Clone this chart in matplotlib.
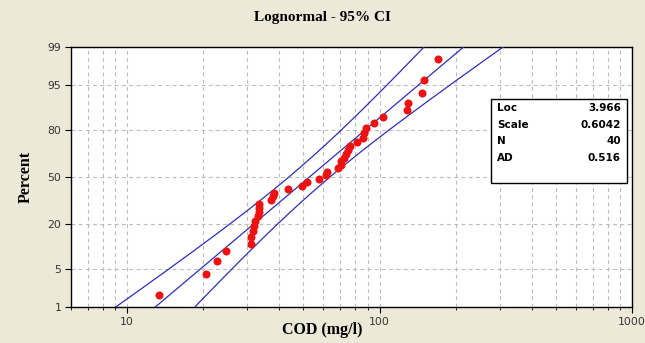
import numpy as np
import matplotlib
matplotlib.use("Agg")
import matplotlib.pyplot as plt
from matplotlib.patches import Rectangle
from matplotlib.ticker import FixedLocator, LogLocator, NullFormatter
from statistics import NormalDist

# COD samples (mg/l), sorted
cod = [13.4, 20.5, 22.7, 24.6, 30.9, 30.9, 31.5, 31.8, 32.1, 32.9,
       33.2, 33.2, 33.2, 37.1, 37.8, 38.1, 43.3, 49.2, 51.5, 57.4,
       61.2, 61.7, 68.8, 70.1, 70.7, 72.1, 73.4, 74.7, 76.1, 81.8,
       85.7, 87.2, 88.8, 95.5, 102.8, 129.0, 130.0, 148.0, 150.6, 171.0]

# lognormal fit summary
LOC = 3.966
SCALE = 0.6042
N = 40
AD = 0.516

pct_ticks = [1, 5, 20, 50, 80, 95, 99]
x_ticks = [10, 100, 1000]

ND = NormalDist()
BG = "#ECE9D8"
LINE = "#2f2fb4"
SERIF = "Liberation Serif"


def prob_fwd(p):
    p = np.clip(np.asarray(p, dtype=float), 1e-6, 100 - 1e-6) / 100.0
    return np.vectorize(ND.inv_cdf, otypes=[float])(p) if p.ndim else ND.inv_cdf(float(p))


def prob_inv(z):
    z = np.asarray(z, dtype=float)
    return np.vectorize(ND.cdf, otypes=[float])(z) * 100.0 if z.ndim else ND.cdf(float(z)) * 100.0


fig = plt.figure(figsize=(6.45, 3.43), dpi=100, facecolor=BG)
ax = fig.add_axes([71 / 645, 1 - 307 / 343, 561 / 645, 260 / 343])
ax.set_facecolor("white")

ax.set_xscale("log")
ax.set_yscale("function", functions=(prob_fwd, prob_inv))
ax.set_xlim(6, 1000)
ax.set_ylim(1, 99)

# median-rank plotting positions
n = len(cod)
ranks = np.arange(1, n + 1)
pos = (ranks - 0.3) / (n + 0.4) * 100

# fitted percentile line with 95% bands
z = np.linspace(-2.7, 2.7, 300)
pz = np.array([ND.cdf(v) for v in z]) * 100
se = SCALE * np.sqrt(1.0 / N + z ** 2 / (2.0 * N))
mid = LOC + z * SCALE
ax.plot(np.exp(mid), pz, color=LINE, lw=0.9, zorder=3)
ax.plot(np.exp(mid - 1.96 * se), pz, color=LINE, lw=0.9, zorder=3)
ax.plot(np.exp(mid + 1.96 * se), pz, color=LINE, lw=0.9, zorder=3)

ax.plot(cod, pos, "o", color="#ee1111", ms=5.8, mec="none", zorder=4)

# grid
ax.xaxis.set_major_locator(FixedLocator(x_ticks))
ax.xaxis.set_minor_locator(LogLocator(base=10, subs=np.arange(2, 10)))
ax.xaxis.set_minor_formatter(NullFormatter())
ax.set_xticklabels([str(t) for t in x_ticks])
ax.yaxis.set_major_locator(FixedLocator(pct_ticks))
ax.yaxis.set_minor_locator(FixedLocator([]))
ax.set_yticklabels([str(t) for t in pct_ticks])
ax.grid(True, which="both", axis="x", color="#bcbcbc", ls=(0, (3.5, 3)), lw=0.8)
ax.grid(True, which="major", axis="y", color="#bcbcbc", ls=(0, (3.5, 3)), lw=0.8)
ax.set_axisbelow(True)

ax.tick_params(which="major", direction="out", length=4, width=0.8,
               labelsize=7.8, labelcolor="#333333", pad=3)
ax.tick_params(which="minor", direction="out", length=2.5, width=0.6)
for s in ax.spines.values():
    s.set_linewidth(1.0)
    s.set_color("black")

fig.text(0.5, 1 - 17 / 343, "Lognormal - 95% CI", ha="center", va="center",
         family=SERIF, weight="bold", fontsize=11)
fig.text(0.5, 1 - 330 / 343, "COD (mg/l)", ha="center", va="center",
         family=SERIF, weight="bold", fontsize=11.5)
fig.text(26 / 645, 1 - 177 / 343, "Percent", ha="center", va="center",
         rotation=90, family=SERIF, weight="bold", fontsize=11.5)

# summary box
box = Rectangle((0.749, 0.477), 0.242, 0.323, transform=ax.transAxes,
                facecolor="white", edgecolor="black", lw=1.0, zorder=5)
ax.add_patch(box)
rows = [("Loc", f"{LOC:.3f}"), ("Scale", f"{SCALE:.4f}"), ("N", f"{N}"), ("AD", f"{AD:.3f}")]
for i, (k, v) in enumerate(rows):
    y = 0.765 - i * 0.064
    ax.text(0.759, y, k, transform=ax.transAxes, ha="left", va="center",
            fontsize=7.5, weight="bold", zorder=6)
    ax.text(0.980, y, v, transform=ax.transAxes, ha="right", va="center",
            fontsize=7.5, weight="bold", zorder=6)

fig.savefig("out.png", dpi=100, facecolor=BG)
